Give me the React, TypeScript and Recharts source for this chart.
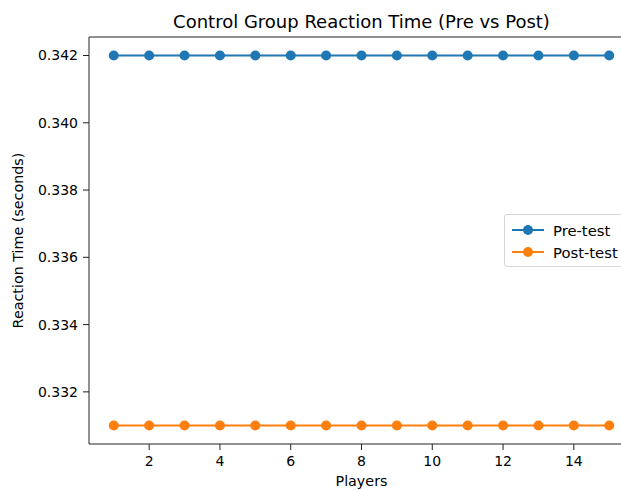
import React from 'react';
import {
  LineChart,
  Line,
  XAxis,
  YAxis,
  Legend,
  ReferenceLine
} from 'recharts';

const players = [1, 2, 3, 4, 5, 6, 7, 8, 9, 10, 11, 12, 13, 14, 15];
const preTest = [0.342, 0.342, 0.342, 0.342, 0.342, 0.342, 0.342, 0.342, 0.342, 0.342, 0.342, 0.342, 0.342, 0.342, 0.342];
const postTest = [0.331, 0.331, 0.331, 0.331, 0.331, 0.331, 0.331, 0.331, 0.331, 0.331, 0.331, 0.331, 0.331, 0.331, 0.331];
const xTicks = [2, 4, 6, 8, 10, 12, 14];
const yTicks = [0.332, 0.334, 0.336, 0.338, 0.34, 0.342];

const data = players.map((p, i) => ({ player: p, pre: preTest[i], post: postTest[i] }));

const FONT = '"DejaVu Sans", sans-serif';
const BLUE = '#1f77b4';
const ORANGE = '#ff7f0e';
const Y_MAX = 0.34255;

const legendItems = [
  { label: 'Pre-test', color: BLUE },
  { label: 'Post-test', color: ORANGE }
];

// matplotlib-like legend box; the right part runs off the picture like in the original
const renderLegend = () => (
  <div
    style={{
      border: '1px solid #d6d6d6',
      borderRadius: 3,
      background: 'rgba(255,255,255,0.8)',
      padding: '4px 10px 3px 6px',
      fontFamily: FONT,
      fontSize: 14.8,
      color: '#000',
      width: 140
    }}
  >
    {legendItems.map(item => (
      <div key={item.label} style={{ display: 'flex', alignItems: 'center', height: 22, whiteSpace: 'nowrap' }}>
        <svg width={34} height={12} style={{ marginRight: 8 }}>
          <line x1={1} y1={6} x2={33} y2={6} stroke={item.color} strokeWidth={2} />
          <circle cx={17} cy={6} r={5} fill={item.color} />
        </svg>
        <span>{item.label}</span>
      </div>
    ))}
  </div>
);

const App: React.FC = () => {
  return (
    <div
      style={{
        position: 'relative',
        width: 621,
        height: 490,
        overflow: 'hidden',
        background: '#fff'
      }}
    >
      <style>{'body { margin: 0; }'}</style>
      <div
        style={{
          position: 'absolute',
          left: 89,
          width: 545,
          top: 11,
          textAlign: 'center',
          fontFamily: FONT,
          fontSize: 18,
          color: '#000',
          whiteSpace: 'nowrap'
        }}
      >
        Control Group Reaction Time (Pre vs Post)
      </div>
      <LineChart
        width={650}
        height={490}
        data={data}
        margin={{ top: 37, right: 16, bottom: 0, left: 0 }}
      >
        <XAxis
          dataKey="player"
          type="number"
          domain={[0.3, 15.7]}
          ticks={xTicks}
          allowDataOverflow
          height={46}
          tickSize={6}
          tickMargin={6}
          stroke="#222"
          tick={{ fill: '#000', fontSize: 14, fontFamily: FONT }}
          label={{ value: 'Players', position: 'insideBottom', offset: 4, fill: '#000', fontSize: 14.3, fontFamily: FONT }}
        />
        <YAxis
          type="number"
          domain={[0.33045, Y_MAX]}
          ticks={yTicks}
          allowDataOverflow
          width={89}
          tickSize={6}
          tickMargin={5}
          stroke="#222"
          tickFormatter={(v: number) => v.toFixed(3)}
          tick={{ fill: '#000', fontSize: 14, fontFamily: FONT }}
          label={{
            value: 'Reaction Time (seconds)',
            angle: -90,
            position: 'insideLeft',
            offset: 18,
            fill: '#000',
            fontSize: 14.3,
            fontFamily: FONT,
            style: { textAnchor: 'middle' }
          }}
        />
        <ReferenceLine y={Y_MAX} stroke="#222" strokeWidth={1} />
        <Line
          dataKey="pre"
          name="Pre-test"
          stroke={BLUE}
          strokeWidth={2}
          dot={{ r: 5, fill: BLUE, stroke: BLUE, strokeWidth: 0 }}
          isAnimationActive={false}
        />
        <Line
          dataKey="post"
          name="Post-test"
          stroke={ORANGE}
          strokeWidth={2}
          dot={{ r: 5, fill: ORANGE, stroke: ORANGE, strokeWidth: 0 }}
          isAnimationActive={false}
        />
        <Legend
          layout="vertical"
          align="center"
          verticalAlign="middle"
          content={renderLegend}
          wrapperStyle={{ position: 'absolute', left: 504, top: 214, width: 'auto', height: 'auto' }}
        />
      </LineChart>
    </div>
  );
};

export default App;
